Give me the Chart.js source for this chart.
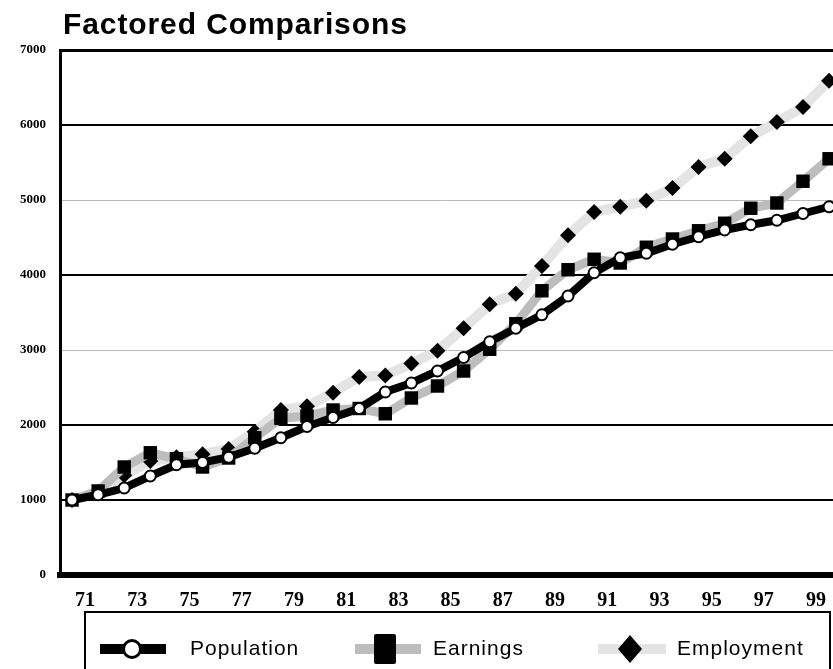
<!DOCTYPE html>
<html>
<head>
<meta charset="utf-8">
<script src="https://cdn.jsdelivr.net/npm/chart.js@4.4.1/dist/chart.umd.min.js"></script>
<style>
  html, body { margin: 0; padding: 0; background: #fff; }
  #wrap { position: relative; width: 833px; height: 669px; overflow: hidden; }
  #title {
    position: absolute; left: 63px; top: 9px;
    font: bold 30px "Liberation Sans", Arial, sans-serif; letter-spacing: 0.9px; line-height: 30px; color: #000;
  }
  #legend {
    position: absolute; left: 84px; top: 611px; width: 747px; height: 80px;
    border: 2px solid #000; box-sizing: border-box;
  }
  .item { position: absolute; top: 0; height: 60px; }
  .bar { position: absolute; top: 31px; height: 10px; }
  .mark { position: absolute; box-sizing: border-box; }
  .txt {
    position: absolute; top: 23px; white-space: nowrap;
    font: 21px "Liberation Sans", Arial, sans-serif; letter-spacing: 1px; line-height: 24px; color: #000;
  }
</style>
</head>
<body>
<div id="wrap">
  <div id="title">Factored Comparisons</div>
  <canvas id="chart" width="833" height="669"></canvas>
  <div id="legend"></div>
</div>
<script>
// years on the x axis (19xx)
const years = [70, 71, 72, 73, 74, 75, 76, 77, 78, 79, 80, 81, 82, 83, 84,
               85, 86, 87, 88, 89, 90, 91, 92, 93, 94, 95, 96, 97, 98, 99];
const tickYears = [71, 73, 75, 77, 79, 81, 83, 85, 87, 89, 91, 93, 95, 97, 99];
const seriesNames = ["Population", "Earnings", "Employment"];

const population = [1000, 1070, 1160, 1320, 1470, 1500, 1570, 1690, 1830, 1980,
                    2100, 2220, 2440, 2560, 2720, 2900, 3110, 3290, 3470, 3720,
                    4030, 4230, 4290, 4410, 4510, 4600, 4670, 4730, 4820, 4910];
const earnings = [1000, 1120, 1440, 1630, 1550, 1440, 1560, 1830, 2090, 2120,
                  2200, 2220, 2150, 2360, 2520, 2720, 3010, 3350, 3790, 4070,
                  4210, 4160, 4370, 4480, 4590, 4690, 4890, 4960, 5250, 5550];
const employment = [1000, 1110, 1330, 1520, 1570, 1610, 1680, 1910, 2200, 2250,
                    2430, 2640, 2660, 2820, 2990, 3290, 3610, 3750, 4120, 4530,
                    4840, 4910, 4990, 5160, 5440, 5550, 5850, 6040, 6240, 6590];

const toPoints = (vals) => vals.map((v, i) => ({ x: years[i], y: v }));

const ctx = document.getElementById("chart").getContext("2d");
const chart = new Chart(ctx, {
  type: "line",
  data: {
    datasets: [
      {
        label: seriesNames[0],
        data: toPoints(population),
        borderColor: "#000",
        borderWidth: 8,
        pointStyle: "circle",
        pointRadius: 5.5,
        pointBorderWidth: 2,
        pointBackgroundColor: "#fff",
        pointBorderColor: "#000",
      },
      {
        label: seriesNames[1],
        data: toPoints(earnings),
        borderColor: "#bdbdbd",
        borderWidth: 9,
        pointStyle: "rect",
        pointRadius: 9.5,
        pointBorderWidth: 0,
        pointBackgroundColor: "#000",
        pointBorderColor: "#000",
      },
      {
        label: seriesNames[2],
        data: toPoints(employment),
        borderColor: "#e4e4e4",
        borderWidth: 10,
        pointStyle: "rectRot",
        pointRadius: 8,
        pointBorderWidth: 0,
        pointBackgroundColor: "#000",
        pointBorderColor: "#000",
      },
    ],
  },
  options: {
    responsive: false,
    animation: false,
    clip: false,
    tension: 0,
    layout: { autoPadding: false, padding: { top: 50, right: 0, bottom: 54, left: 0 } },
    plugins: {
      legend: { display: false },
      title: { display: false },
      tooltip: { enabled: false },
    },
    scales: {
      x: {
        type: "linear",
        min: 69.54,
        max: 99.15,
        grid: { display: false, drawTicks: false },
        border: { color: "#000", width: 6 },
        afterBuildTicks: (s) => { s.ticks = tickYears.map((v) => ({ value: v })); },
        afterFit: (s) => { s.height = 40; s.paddingLeft = 0; s.paddingRight = 0; },
        ticks: {
          autoSkip: false,
          maxRotation: 0,
          labelOffset: -13,
          padding: 14,
          color: "#000",
          font: { family: "'Liberation Serif', 'Times New Roman', serif", size: 20, weight: "bold" },
          callback: (v) => String(v),
        },
      },
      y: {
        min: 0,
        max: 7000,
        afterFit: (s) => { s.width = 60; s.paddingTop = 0; s.paddingBottom = 0; },
        border: { color: "#000", width: 3 },
        grid: {
          drawTicks: false,
          color: (c) => {
            const v = c.tick.value;
            if (v === 0) return "rgba(0,0,0,0)";
            return (v === 3000 || v === 5000) ? "#bbbbbb" : "#000";
          },
          lineWidth: (c) => {
            const v = c.tick.value;
            if (v === 7000) return 3;
            return (v === 3000 || v === 5000) ? 1 : 2;
          },
        },
        ticks: {
          stepSize: 1000,
          padding: 14,
          color: "#000",
          font: { family: "'Liberation Serif', 'Times New Roman', serif", size: 13, weight: "bold" },
          callback: (v) => String(v),
        },
      },
    },
  },
});

// legend box below the chart, built from the datasets
const legendEl = document.getElementById("legend");
const legendPos = [
  { bar: 14, barW: 66, mark: 46, txt: 104 },
  { bar: 269, barW: 66, mark: 299, txt: 347 },
  { bar: 512, barW: 68, mark: 544, txt: 591 },
];
chart.data.datasets.forEach((ds, i) => {
  const p = legendPos[i];
  const item = document.createElement("div");
  item.className = "item";
  let markCss;
  if (ds.pointStyle === "circle") {
    markCss = "left:" + (p.mark - 10) + "px;top:26px;width:20px;height:20px;border-radius:50%;background:#fff;border:3px solid #000;";
  } else if (ds.pointStyle === "rect") {
    markCss = "left:" + (p.mark - 11) + "px;top:21px;width:22px;height:30px;background:#000;border-radius:2px;";
  } else {
    markCss = "left:" + (p.mark - 12) + "px;top:22px;width:24px;height:28px;background:#000;clip-path:polygon(50% 0,100% 50%,50% 100%,0 50%);";
  }
  item.innerHTML =
    '<div class="bar" style="left:' + p.bar + "px;width:" + p.barW + "px;background:" + ds.borderColor + '"></div>' +
    '<div class="mark" style="' + markCss + '"></div>' +
    '<div class="txt" style="left:' + p.txt + 'px">' + ds.label + "</div>";
  legendEl.appendChild(item);
});
</script>
</body>
</html>
